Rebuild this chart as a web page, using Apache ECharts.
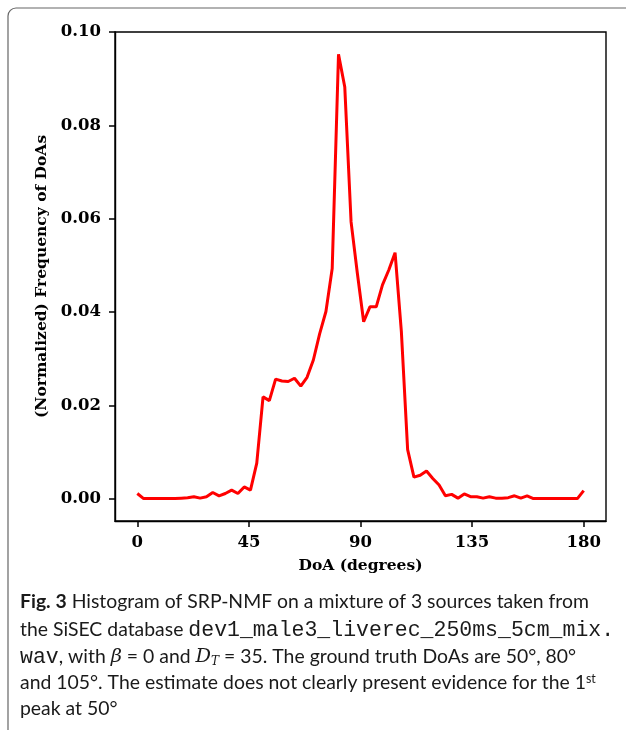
<!DOCTYPE html>
<html>
<head>
<meta charset="utf-8">
<script src="https://cdn.jsdelivr.net/npm/echarts@6/dist/echarts.min.js"></script>
<style>
html,body{margin:0;padding:0;background:#fff;}
#c{width:626px;height:730px;}
</style>
</head>
<body>
<div id="c"></div>
<script>
// DoA bin centres (degrees)
const doaDegrees = [0, 2.54, 5.07, 7.61, 10.14, 12.68, 15.21, 17.75, 20.28, 22.82,
  25.35, 27.89, 30.42, 32.96, 35.49, 38.03, 40.56, 43.10, 45.63, 48.17,
  50.70, 53.24, 55.77, 58.31, 60.85, 63.38, 65.92, 68.45, 70.99, 73.52,
  76.06, 78.59, 81.13, 83.66, 86.20, 88.73, 91.27, 93.80, 96.34, 98.87,
  101.41, 103.94, 106.48, 109.01, 111.55, 114.08, 116.62, 119.15, 121.69, 124.23,
  126.76, 129.30, 131.83, 134.37, 136.90, 139.44, 141.97, 144.51, 147.04, 149.58,
  152.11, 154.65, 157.18, 159.72, 162.25, 164.79, 167.32, 169.86, 172.39, 174.93,
  177.46, 180];
// normalized frequency of DoAs
const frequency = [0.0011, 0.0000, 0.0000, 0.0000, 0.0000, 0.0000, 0.0000, 0.0001, 0.0002, 0.0004,
  0.0001, 0.0004, 0.0013, 0.0006, 0.0011, 0.0018, 0.0011, 0.0025, 0.0018, 0.0076,
  0.0218, 0.0210, 0.0256, 0.0252, 0.0251, 0.0258, 0.0241, 0.0260, 0.0297, 0.0353,
  0.0401, 0.0493, 0.0952, 0.0882, 0.0593, 0.0483, 0.0379, 0.0411, 0.0411, 0.0458,
  0.0490, 0.0527, 0.0358, 0.0105, 0.0046, 0.0050, 0.0059, 0.0043, 0.0029, 0.0006,
  0.0009, 0.0001, 0.0010, 0.0004, 0.0004, 0.0001, 0.0004, 0.0001, 0.0001, 0.0002,
  0.0006, 0.0001, 0.0006, 0.0000, 0.0000, 0.0000, 0.0000, 0.0000, 0.0000, 0.0000,
  0.0000, 0.0017];
const xTicks = [0, 45, 90, 135, 180];
const yTicks = [0, 0.02, 0.04, 0.06, 0.08, 0.10];

const captionLines = [
  '{b|Fig. 3} Histogram of SRP-NMF on a mixture of 3 sources taken from',
  'the SiSEC database {m|dev1_male3_liverec_250ms_5cm_mix.}',
  '{m|wav}, with {i|β} = 0 and {i|D}{sub|T} = 35. The ground truth DoAs are 50°, 80°',
  'and 105°. The estimate does not clearly present evidence for the 1{sup|st}',
  'peak at 50°'
];

const seriesData = doaDegrees.map((d, i) => [d, frequency[i]]);
const serif = '"DejaVu Serif", serif';
const capFont = 'Lato';
const capSize = 19.4;
const rich = {
  b: {fontFamily: capFont, fontWeight: 'bold', fontSize: capSize, fill: '#1a1a1a'},
  m: {fontFamily: '"Liberation Mono", monospace', fontSize: 21.5, fill: '#1a1a1a'},
  i: {fontFamily: '"DejaVu Serif", serif', fontStyle: 'italic', fontSize: capSize, fill: '#1a1a1a'},
  sub: {fontFamily: '"DejaVu Serif", serif', fontStyle: 'italic', fontSize: 12, fill: '#1a1a1a', verticalAlign: 'bottom', padding: [8, 0, 0, 0]},
  sup: {fontFamily: capFont, fontSize: 12.5, fill: '#1a1a1a', verticalAlign: 'top', padding: [0, 0, 8, 0]}
};
const lineY = [604, 631, 658, 684, 711];
const captionGraphics = captionLines.map((t, i) => ({
  type: 'text', left: 20, top: lineY[i] - 12,
  style: {text: t, rich: rich, fontFamily: capFont, fontSize: capSize, fill: '#1a1a1a'}
}));

const chart = echarts.init(document.getElementById('c'), null, {renderer: 'canvas'});
chart.setOption({
  animation: false,
  backgroundColor: '#fff',
  grid: {left: 115, right: 20, top: 32, bottom: 209, show: true, borderColor: '#000', borderWidth: 1.4, backgroundColor: 'transparent'},
  xAxis: {
    type: 'value', min: -9, max: 189,
    name: 'DoA (degrees)', nameLocation: 'middle', nameGap: 37,
    nameTextStyle: {fontFamily: serif, fontWeight: 'bold', fontSize: 15.5, color: '#000', verticalAlign: 'top'},
    axisLine: {show: true, onZero: false, lineStyle: {color: '#000', width: 1.4}},
    axisTick: {show: true, length: 6, customValues: xTicks, lineStyle: {color: '#000', width: 1.5}},
    axisLabel: {customValues: xTicks, margin: 13, fontFamily: serif, fontWeight: 'bold', fontSize: 16.5, color: '#000'},
    splitLine: {show: false}
  },
  yAxis: {
    type: 'value', min: -0.0048, max: 0.1,
    name: '(Normalized) Frequency of DoAs', nameLocation: 'middle', nameGap: 64, nameRotate: 90,
    nameTextStyle: {fontFamily: serif, fontWeight: 'bold', fontSize: 15.5, color: '#000'},
    axisLine: {show: true, onZero: false, lineStyle: {color: '#000', width: 1.4}},
    axisTick: {show: true, length: 6, customValues: yTicks, lineStyle: {color: '#000', width: 1.5}},
    axisLabel: {customValues: yTicks, margin: 14, fontFamily: serif, fontWeight: 'bold', fontSize: 16.5, color: '#000',
      formatter: v => v.toFixed(2)},
    splitLine: {show: false}
  },
  series: [{
    type: 'line', data: seriesData, showSymbol: false, symbol: 'none',
    lineStyle: {color: '#ff0000', width: 3}, itemStyle: {color: '#ff0000'}
  }],
  graphic: [
    {type: 'rect', shape: {x: 8, y: 8, width: 640, height: 800, r: 8},
      style: {fill: 'none', stroke: '#666', lineWidth: 1.2}, silent: true, z: -1}
  ].concat(captionGraphics)
});
</script>
</body>
</html>
